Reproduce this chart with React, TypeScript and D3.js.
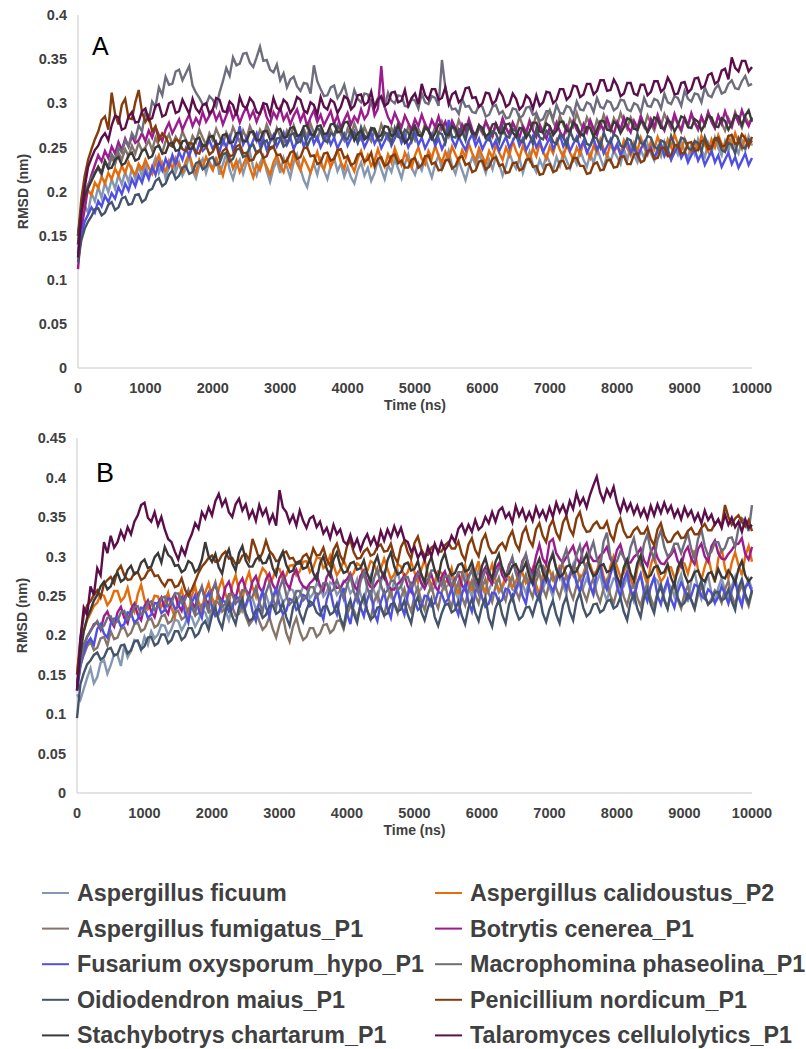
import React from 'react';
import * as d3 from 'd3';

const SERIES_NAMES = [
  'Aspergillus ficuum',
  'Aspergillus calidoustus_P2',
  'Aspergillus fumigatus_P1',
  'Botrytis cenerea_P1',
  'Fusarium oxysporum_hypo_P1',
  'Macrophomina phaseolina_P1',
  'Oidiodendron maius_P1',
  'Penicillium nordicum_P1',
  'Stachybotrys chartarum_P1',
  'Talaromyces cellulolytics_P1',
];

const SERIES_COLORS = [
  '#8497b0', '#e46c0a', '#857468', '#9b1c8c', '#5050e0',
  '#6e6d7e', '#44546a', '#843c0c', '#3b3838', '#5b0f4a',
];

const X_TICKS = [0, 1000, 2000, 3000, 4000, 5000, 6000, 7000, 8000, 9000, 10000];
const Y_TICKS_A = [0, 0.05, 0.1, 0.15, 0.2, 0.25, 0.3, 0.35, 0.4];
const Y_TICKS_B = [0, 0.05, 0.1, 0.15, 0.2, 0.25, 0.3, 0.35, 0.4, 0.45];

// RMSD values (nm), sampled every 50 ns from 0 to 10000 ns.
// ---------- Panel A ----------
const A_FICUUM = [
  .130,.168,.184,.176,.198,.189,.205,.193,.210,.199,
  .214,.203,.219,.208,.222,.211,.226,.214,.229,.217,
  .231,.216,.227,.238,.221,.232,.215,.228,.240,.222,
  .233,.218,.226,.241,.224,.215,.230,.237,.221,.234,
  .226,.239,.219,.231,.243,.225,.214,.229,.236,.220,
  .233,.245,.227,.218,.232,.240,.223,.211,.226,.235,
  .221,.238,.228,.216,.233,.242,.226,.213,.205,.222,
  .231,.219,.236,.224,.214,.229,.238,.223,.232,.217,
  .228,.216,.209,.224,.233,.218,.227,.212,.221,.236,
  .225,.214,.230,.222,.237,.226,.215,.231,.242,.227,
  .219,.232,.224,.238,.227,.216,.231,.241,.225,.234,
  .246,.229,.220,.235,.224,.213,.228,.239,.230,.243,
  .232,.221,.236,.225,.240,.231,.218,.229,.244,.233,
  .226,.238,.221,.234,.245,.230,.222,.236,.227,.241,
  .233,.224,.239,.229,.244,.235,.226,.240,.231,.247,
  .236,.228,.243,.232,.249,.238,.227,.242,.234,.246,
  .239,.231,.248,.236,.252,.241,.233,.247,.238,.254,
  .243,.235,.250,.240,.256,.244,.236,.251,.242,.257,
  .246,.238,.253,.242,.259,.247,.239,.255,.244,.261,
  .249,.241,.257,.246,.262,.251,.243,.258,.247,.263,
  .252,
];
const A_CALIDOUSTUS = [
  .140,.175,.192,.201,.196,.210,.204,.217,.209,.221,
  .214,.226,.218,.229,.221,.233,.224,.219,.231,.225,
  .236,.227,.220,.232,.241,.228,.223,.235,.226,.238,
  .230,.222,.234,.243,.229,.221,.236,.227,.239,.231,
  .224,.237,.229,.218,.233,.240,.226,.235,.222,.230,
  .239,.227,.216,.231,.224,.236,.228,.219,.233,.241,
  .229,.222,.236,.227,.243,.232,.224,.238,.230,.221,
  .234,.245,.231,.225,.239,.228,.236,.247,.233,.226,
  .240,.231,.223,.237,.246,.232,.241,.229,.235,.248,
  .236,.228,.242,.233,.249,.238,.230,.244,.235,.227,
  .241,.250,.237,.231,.246,.238,.252,.240,.233,.245,
  .236,.251,.242,.234,.247,.239,.254,.243,.235,.249,
  .240,.232,.246,.238,.253,.244,.236,.250,.241,.257,
  .246,.238,.252,.243,.235,.249,.240,.255,.245,.237,
  .251,.243,.258,.247,.239,.253,.244,.236,.250,.242,
  .256,.246,.238,.252,.244,.259,.248,.240,.254,.245,
  .251,.243,.258,.249,.241,.255,.246,.261,.250,.242,
  .257,.248,.262,.252,.244,.259,.250,.265,.254,.246,
  .260,.251,.243,.257,.248,.263,.253,.245,.259,.250,
  .264,.254,.246,.261,.251,.266,.255,.248,.262,.252,
  .258,
];
const A_FUMIGATUS = [
  .150,.182,.196,.208,.214,.221,.228,.220,.235,.226,
  .239,.231,.244,.236,.248,.240,.252,.243,.255,.246,
  .250,.258,.247,.261,.252,.244,.257,.265,.253,.262,
  .255,.268,.259,.250,.263,.256,.270,.261,.253,.266,
  .258,.271,.262,.254,.267,.259,.273,.264,.256,.269,
  .260,.274,.265,.257,.270,.262,.276,.266,.258,.272,
  .263,.255,.269,.261,.275,.264,.257,.271,.262,.277,
  .266,.258,.272,.263,.256,.270,.261,.275,.265,.258,
  .271,.263,.277,.266,.259,.273,.264,.257,.270,.262,
  .276,.266,.259,.272,.264,.278,.267,.260,.274,.265,
  .258,.271,.263,.277,.268,.261,.274,.265,.279,.269,
  .262,.275,.267,.281,.271,.263,.277,.268,.260,.273,
  .266,.280,.270,.262,.276,.268,.283,.272,.264,.278,
  .270,.285,.274,.266,.281,.272,.288,.276,.268,.283,
  .292,.279,.271,.286,.276,.268,.282,.274,.289,.278,
  .270,.284,.275,.267,.281,.273,.287,.277,.269,.283,
  .275,.289,.279,.271,.284,.276,.268,.281,.273,.286,
  .277,.269,.283,.275,.288,.279,.271,.285,.276,.268,
  .282,.274,.287,.278,.270,.284,.275,.289,.280,.272,
  .286,.277,.269,.283,.275,.290,.280,.272,.285,.277,
  .283,
];
const A_BOTRYTIS = [
  .112,.158,.180,.205,.219,.230,.241,.234,.246,.238,
  .251,.243,.256,.247,.260,.251,.263,.255,.258,.266,
  .257,.269,.261,.273,.264,.257,.270,.278,.266,.274,
  .282,.270,.279,.287,.274,.283,.276,.290,.279,.286,
  .293,.281,.289,.276,.286,.295,.282,.290,.278,.288,
  .296,.283,.291,.279,.289,.298,.284,.277,.290,.283,
  .295,.281,.288,.276,.286,.293,.280,.289,.274,.284,
  .292,.279,.287,.275,.283,.291,.277,.286,.272,.281,
  .289,.276,.285,.279,.293,.282,.288,.305,.286,.294,
  .342,.296,.284,.277,.289,.280,.273,.286,.278,.270,
  .282,.274,.287,.276,.269,.281,.273,.285,.271,.279,
  .267,.280,.272,.263,.276,.269,.282,.270,.262,.275,
  .268,.279,.271,.264,.277,.268,.282,.272,.265,.278,
  .270,.261,.274,.267,.279,.269,.262,.275,.266,.260,
  .273,.265,.278,.268,.261,.274,.266,.280,.270,.263,
  .276,.267,.281,.271,.264,.277,.269,.283,.272,.265,
  .279,.270,.284,.274,.267,.280,.272,.286,.275,.268,
  .282,.273,.287,.276,.269,.283,.274,.288,.277,.270,
  .284,.275,.289,.278,.271,.285,.276,.290,.279,.272,
  .286,.277,.291,.280,.273,.287,.278,.292,.281,.274,
  .284,
];
const A_FUSARIUM = [
  .130,.152,.166,.174,.182,.176,.189,.183,.195,.188,
  .198,.192,.205,.197,.209,.201,.214,.206,.218,.210,
  .223,.214,.228,.219,.233,.224,.237,.228,.241,.231,
  .245,.236,.249,.240,.252,.242,.255,.246,.250,.258,
  .248,.256,.245,.259,.250,.262,.247,.257,.274,.253,
  .261,.249,.258,.266,.252,.260,.247,.256,.264,.251,
  .259,.267,.253,.261,.248,.257,.265,.251,.260,.268,
  .254,.262,.250,.258,.266,.253,.261,.249,.257,.265,
  .252,.260,.268,.255,.263,.250,.258,.266,.254,.262,
  .249,.257,.265,.252,.260,.268,.255,.263,.250,.258,
  .266,.253,.261,.249,.257,.265,.252,.260,.248,.256,
  .281,.259,.251,.262,.254,.247,.258,.265,.252,.260,
  .248,.256,.263,.250,.258,.246,.254,.262,.249,.257,
  .265,.252,.260,.247,.255,.263,.250,.258,.245,.253,
  .261,.248,.256,.264,.251,.259,.246,.254,.262,.249,
  .257,.244,.252,.260,.247,.255,.243,.251,.259,.246,
  .254,.241,.249,.257,.244,.252,.240,.248,.256,.243,
  .250,.238,.246,.253,.240,.248,.236,.244,.251,.238,
  .245,.233,.241,.248,.235,.243,.230,.238,.246,.233,
  .241,.228,.236,.244,.231,.239,.227,.235,.243,.230,
  .238,
];
const A_MACROPHOMINA = [
  .150,.180,.198,.207,.215,.222,.226,.219,.234,.228,
  .242,.236,.250,.244,.258,.251,.266,.259,.275,.268,
  .290,.281,.302,.296,.318,.309,.330,.321,.322,.336,
  .338,.326,.334,.342,.320,.312,.306,.299,.298,.308,
  .304,.296,.312,.325,.340,.331,.352,.343,.345,.356,
  .357,.346,.341,.352,.364,.348,.349,.338,.335,.344,
  .326,.334,.318,.327,.330,.319,.314,.323,.322,.311,
  .343,.325,.316,.308,.309,.318,.320,.306,.312,.321,
  .306,.298,.315,.305,.301,.311,.310,.298,.297,.306,
  .305,.296,.312,.303,.300,.309,.308,.297,.296,.305,
  .303,.294,.311,.301,.299,.308,.306,.297,.349,.318,
  .302,.293,.294,.288,.305,.296,.297,.290,.289,.298,
  .296,.285,.287,.296,.298,.288,.291,.283,.284,.294,
  .293,.283,.286,.295,.296,.287,.289,.280,.282,.291,
  .291,.283,.298,.289,.288,.297,.295,.286,.302,.293,
  .292,.301,.299,.290,.306,.296,.294,.303,.301,.292,
  .295,.304,.303,.293,.291,.300,.298,.289,.306,.297,
  .296,.305,.303,.294,.311,.301,.299,.308,.306,.297,
  .314,.305,.302,.311,.310,.301,.318,.309,.307,.316,
  .321,.311,.313,.322,.326,.317,.316,.325,.331,.320,
  .322,
];
const A_OIDIODENDRON = [
  .120,.145,.158,.166,.172,.180,.181,.173,.176,.185,
  .188,.179,.182,.192,.194,.185,.186,.196,.197,.188,
  .191,.201,.203,.212,.215,.206,.209,.219,.224,.214,
  .218,.227,.229,.220,.222,.232,.234,.225,.228,.237,
  .239,.230,.232,.242,.244,.234,.237,.247,.249,.239,
  .241,.251,.253,.243,.246,.256,.258,.248,.250,.260,
  .261,.251,.254,.264,.266,.255,.257,.267,.251,.260,
  .262,.272,.268,.258,.256,.266,.264,.274,.271,.261,
  .259,.269,.266,.256,.273,.263,.261,.271,.268,.258,
  .258,.267,.265,.255,.272,.262,.260,.270,.267,.257,
  .274,.264,.262,.272,.269,.259,.257,.267,.265,.255,
  .272,.262,.261,.271,.268,.258,.275,.265,.263,.273,
  .270,.260,.258,.268,.266,.256,.273,.263,.261,.271,
  .268,.258,.256,.266,.264,.254,.271,.261,.259,.269,
  .266,.256,.254,.264,.262,.252,.269,.259,.257,.267,
  .264,.254,.252,.262,.260,.250,.267,.257,.255,.265,
  .262,.252,.250,.260,.258,.248,.265,.255,.253,.263,
  .261,.251,.248,.258,.256,.246,.263,.253,.251,.261,
  .259,.249,.247,.257,.255,.245,.262,.252,.250,.260,
  .257,.247,.245,.255,.253,.243,.260,.250,.249,.259,
  .256,
];
const A_PENICILLIUM = [
  .150,.192,.218,.236,.248,.259,.268,.281,.285,.270,
  .312,.288,.276,.298,.305,.283,.282,.301,.315,.290,
  .279,.286,.268,.274,.258,.266,.262,.253,.251,.259,
  .257,.248,.246,.255,.254,.244,.243,.253,.252,.242,
  .245,.254,.238,.246,.249,.240,.241,.251,.253,.243,
  .244,.235,.236,.245,.247,.238,.240,.250,.251,.241,
  .242,.233,.235,.244,.246,.237,.239,.249,.250,.240,
  .241,.231,.233,.243,.244,.235,.237,.247,.248,.238,
  .240,.230,.232,.242,.243,.234,.236,.244,.228,.237,
  .239,.229,.231,.240,.242,.232,.235,.227,.227,.236,
  .238,.227,.230,.240,.241,.231,.233,.224,.225,.235,
  .236,.226,.229,.238,.240,.230,.232,.222,.224,.234,
  .235,.225,.228,.237,.239,.229,.231,.221,.222,.232,
  .233,.224,.226,.236,.237,.228,.229,.219,.220,.230,
  .231,.222,.224,.234,.235,.226,.227,.238,.238,.229,
  .229,.220,.221,.231,.233,.224,.225,.235,.236,.227,
  .228,.239,.240,.231,.231,.242,.243,.233,.235,.246,
  .247,.237,.238,.249,.250,.240,.241,.252,.253,.243,
  .244,.255,.256,.246,.247,.257,.258,.248,.249,.260,
  .261,.251,.252,.263,.264,.254,.255,.265,.260,.251,
  .262,
];
const A_STACHYBOTRYS = [
  .140,.178,.195,.204,.212,.220,.228,.221,.234,.226,
  .227,.236,.239,.230,.232,.241,.244,.235,.237,.246,
  .248,.238,.240,.250,.252,.243,.244,.254,.255,.246,
  .247,.257,.258,.248,.249,.259,.261,.251,.252,.262,
  .263,.253,.254,.264,.265,.255,.256,.266,.267,.257,
  .257,.267,.268,.258,.258,.268,.269,.259,.260,.270,
  .271,.261,.262,.272,.273,.263,.264,.274,.275,.265,
  .264,.274,.275,.265,.266,.276,.277,.267,.268,.278,
  .279,.269,.258,.266,.269,.259,.262,.272,.271,.261,
  .264,.274,.273,.263,.265,.275,.265,.255,.259,.269,
  .274,.264,.263,.273,.270,.260,.266,.276,.275,.265,
  .264,.274,.271,.261,.266,.276,.276,.266,.265,.275,
  .272,.262,.266,.276,.277,.267,.266,.276,.277,.267,
  .262,.272,.271,.261,.268,.278,.278,.268,.267,.277,
  .274,.264,.269,.279,.279,.269,.268,.278,.275,.265,
  .263,.273,.272,.262,.270,.280,.280,.270,.269,.279,
  .276,.266,.273,.283,.281,.271,.270,.280,.277,.267,
  .274,.284,.282,.272,.271,.281,.278,.268,.275,.285,
  .283,.273,.272,.282,.279,.269,.276,.286,.284,.274,
  .273,.283,.280,.270,.277,.287,.285,.275,.286,.292,
  .279,
];
const A_TALAROMYCES = [
  .125,.175,.205,.228,.238,.247,.252,.261,.266,.258,
  .275,.286,.284,.270,.272,.285,.290,.278,.279,.291,
  .294,.281,.283,.297,.299,.285,.287,.300,.302,.289,
  .291,.304,.296,.288,.305,.294,.289,.298,.300,.288,
  .293,.306,.304,.291,.290,.302,.298,.286,.307,.297,
  .294,.306,.301,.290,.288,.300,.299,.287,.306,.295,
  .292,.304,.300,.289,.295,.307,.304,.292,.289,.301,
  .298,.287,.307,.296,.293,.304,.301,.289,.296,.308,
  .305,.293,.297,.309,.310,.298,.301,.313,.295,.304,
  .308,.297,.300,.312,.313,.301,.303,.315,.297,.306,
  .311,.299,.322,.309,.304,.316,.316,.304,.306,.318,
  .299,.310,.313,.301,.305,.317,.318,.306,.307,.296,
  .300,.312,.311,.299,.303,.315,.308,.296,.299,.311,
  .305,.293,.297,.309,.305,.294,.309,.297,.301,.313,
  .312,.300,.304,.316,.316,.304,.308,.320,.319,.307,
  .310,.322,.322,.310,.314,.326,.326,.314,.315,.327,
  .320,.308,.311,.323,.323,.311,.309,.321,.321,.309,
  .313,.325,.325,.313,.317,.329,.322,.310,.311,.323,
  .324,.312,.316,.328,.329,.317,.320,.332,.334,.322,
  .325,.337,.339,.327,.352,.340,.336,.348,.348,.336,
  .341,
];

// ---------- Panel B ----------
const B_FICUUM = [
  .125,.118,.132,.146,.158,.139,.147,.165,.168,.151,
  .162,.176,.175,.161,.186,.172,.180,.194,.193,.181,
  .198,.188,.205,.196,.201,.213,.212,.200,.208,.220,
  .218,.206,.214,.226,.223,.211,.219,.231,.229,.216,
  .235,.224,.226,.238,.231,.219,.238,.249,.242,.230,
  .236,.248,.247,.233,.240,.253,.251,.238,.244,.256,
  .254,.241,.247,.259,.257,.244,.250,.262,.260,.247,
  .253,.265,.262,.249,.255,.267,.264,.251,.257,.269,
  .266,.253,.259,.271,.252,.241,.263,.275,.256,.245,
  .267,.279,.260,.249,.270,.282,.262,.250,.255,.267,
  .266,.254,.259,.271,.269,.257,.261,.273,.272,.259,
  .264,.276,.257,.245,.268,.280,.261,.249,.271,.283,
  .263,.251,.256,.268,.266,.254,.259,.271,.270,.258,
  .255,.267,.265,.253,.270,.282,.262,.250,.258,.270,
  .261,.249,.272,.284,.264,.252,.278,.290,.268,.256,
  .260,.272,.263,.251,.267,.279,.256,.244,.260,.272,
  .270,.258,.262,.274,.255,.243,.266,.278,.259,.247,
  .261,.273,.269,.257,.254,.266,.261,.249,.265,.277,
  .254,.242,.269,.281,.258,.246,.264,.276,.253,.241,
  .260,.272,.257,.245,.262,.274,.252,.240,.259,.271,
  .258,
];
const B_CALIDOUSTUS = [
  .150,.188,.205,.219,.228,.237,.241,.252,.250,.238,
  .244,.256,.256,.243,.248,.260,.241,.230,.252,.264,
  .245,.233,.238,.250,.249,.236,.242,.254,.235,.223,
  .246,.258,.239,.227,.250,.262,.243,.231,.254,.266,
  .248,.236,.259,.271,.252,.240,.264,.276,.257,.245,
  .268,.280,.261,.249,.273,.285,.280,.267,.272,.284,
  .284,.271,.276,.288,.289,.276,.281,.293,.294,.280,
  .286,.298,.298,.285,.289,.301,.289,.276,.283,.295,
  .285,.273,.279,.291,.288,.275,.281,.294,.291,.278,
  .284,.297,.284,.271,.277,.290,.287,.274,.280,.293,
  .280,.267,.283,.296,.276,.263,.268,.281,.279,.266,
  .272,.285,.265,.252,.276,.289,.269,.256,.281,.294,
  .266,.253,.277,.290,.270,.257,.262,.275,.274,.261,
  .267,.280,.279,.266,.271,.284,.264,.251,.276,.289,
  .283,.270,.275,.288,.288,.275,.273,.286,.285,.272,
  .278,.291,.290,.277,.282,.295,.275,.262,.287,.300,
  .287,.274,.279,.292,.272,.259,.284,.297,.277,.264,
  .289,.302,.281,.268,.274,.287,.286,.273,.279,.292,
  .291,.278,.295,.308,.283,.270,.287,.300,.280,.267,
  .297,.310,.285,.272,.292,.305,.289,.276,.300,.313,
  .293,
];
const B_FUMIGATUS = [
  .140,.162,.175,.186,.192,.181,.184,.196,.198,.187,
  .205,.195,.197,.208,.210,.199,.203,.214,.216,.205,
  .208,.219,.221,.210,.213,.224,.226,.215,.218,.229,
  .231,.220,.223,.234,.236,.225,.228,.239,.240,.229,
  .232,.243,.241,.230,.234,.245,.236,.225,.227,.238,
  .224,.213,.219,.230,.218,.207,.212,.223,.208,.197,
  .214,.225,.203,.192,.211,.222,.205,.194,.198,.209,
  .209,.198,.202,.213,.214,.203,.207,.218,.219,.208,
  .226,.237,.232,.221,.238,.249,.231,.220,.242,.253,
  .236,.225,.245,.256,.239,.228,.248,.259,.241,.230,
  .250,.261,.243,.232,.252,.263,.245,.234,.254,.265,
  .247,.236,.256,.267,.249,.238,.258,.269,.251,.240,
  .260,.271,.253,.242,.262,.273,.255,.244,.264,.275,
  .257,.246,.266,.277,.259,.248,.268,.279,.260,.249,
  .267,.278,.259,.248,.265,.276,.257,.246,.263,.274,
  .255,.244,.261,.272,.253,.242,.259,.270,.251,.240,
  .257,.268,.249,.238,.256,.267,.248,.237,.255,.266,
  .247,.236,.254,.265,.246,.235,.253,.264,.245,.234,
  .252,.263,.244,.233,.251,.262,.250,.239,.246,.257,
  .252,.241,.258,.269,.250,.239,.253,.264,.248,.237,
  .255,
];
const B_BOTRYTIS = [
  .130,.165,.185,.198,.205,.214,.216,.207,.224,.230,
  .218,.211,.229,.236,.222,.215,.233,.240,.226,.219,
  .237,.244,.230,.223,.241,.248,.234,.227,.245,.252,
  .238,.231,.249,.256,.242,.235,.253,.260,.246,.239,
  .257,.264,.250,.243,.261,.268,.254,.247,.265,.272,
  .258,.251,.268,.275,.261,.254,.271,.278,.264,.257,
  .273,.280,.266,.259,.276,.283,.269,.262,.259,.266,
  .270,.277,.263,.256,.274,.281,.267,.260,.260,.267,
  .271,.278,.264,.257,.275,.282,.268,.261,.261,.268,
  .272,.279,.265,.258,.258,.265,.269,.276,.262,.255,
  .273,.280,.266,.259,.270,.277,.263,.256,.274,.281,
  .267,.260,.271,.278,.264,.257,.275,.282,.268,.261,
  .279,.286,.272,.265,.284,.291,.276,.269,.289,.296,
  .281,.274,.294,.301,.286,.279,.300,.315,.297,.290,
  .318,.322,.304,.297,.292,.299,.306,.313,.298,.291,
  .310,.317,.301,.294,.294,.301,.305,.312,.297,.290,
  .308,.315,.299,.292,.292,.299,.303,.310,.295,.288,
  .306,.313,.298,.291,.290,.297,.302,.309,.294,.287,
  .305,.312,.297,.290,.309,.316,.300,.293,.313,.320,
  .304,.297,.296,.303,.308,.315,.316,.323,.303,.296,
  .312,
];
const B_FUSARIUM = [
  .130,.160,.178,.190,.196,.188,.208,.214,.202,.197,
  .215,.221,.222,.211,.214,.229,.228,.216,.220,.235,
  .234,.222,.226,.241,.240,.228,.232,.247,.245,.233,
  .236,.250,.228,.216,.241,.251,.233,.222,.246,.254,
  .237,.225,.229,.244,.242,.230,.234,.249,.247,.235,
  .238,.252,.230,.218,.243,.256,.235,.224,.248,.259,
  .239,.227,.231,.246,.244,.232,.236,.251,.249,.237,
  .240,.254,.232,.220,.245,.258,.237,.226,.249,.260,
  .228,.214,.240,.253,.236,.224,.245,.257,.229,.218,
  .242,.255,.234,.222,.247,.259,.238,.226,.251,.263,
  .244,.232,.236,.250,.249,.237,.241,.255,.253,.241,
  .246,.260,.238,.226,.251,.264,.242,.230,.254,.267,
  .248,.236,.240,.254,.253,.241,.245,.259,.257,.245,
  .258,.270,.250,.240,.265,.275,.252,.244,.266,.278,
  .265,.256,.268,.283,.272,.259,.276,.286,.266,.255,
  .272,.285,.263,.252,.280,.289,.269,.258,.276,.290,
  .262,.249,.270,.281,.258,.247,.266,.277,.254,.243,
  .262,.274,.250,.239,.258,.270,.246,.235,.255,.267,
  .258,.246,.250,.264,.262,.250,.246,.258,.254,.241,
  .248,.262,.252,.240,.257,.269,.249,.237,.261,.266,
  .255,
];
const B_MACROPHOMINA = [
  .140,.165,.188,.198,.206,.212,.218,.209,.212,.222,
  .224,.214,.218,.229,.231,.220,.225,.236,.237,.226,
  .230,.241,.243,.232,.236,.247,.249,.237,.241,.253,
  .253,.241,.245,.257,.238,.227,.250,.262,.243,.232,
  .255,.267,.247,.236,.240,.252,.252,.240,.245,.257,
  .257,.245,.249,.261,.242,.230,.254,.266,.247,.235,
  .259,.271,.251,.239,.244,.256,.256,.244,.249,.261,
  .261,.249,.254,.266,.266,.254,.258,.270,.258,.246,
  .263,.275,.256,.244,.268,.280,.260,.248,.272,.284,
  .264,.252,.257,.269,.269,.257,.262,.274,.274,.262,
  .266,.278,.278,.266,.270,.282,.282,.270,.263,.275,
  .275,.263,.268,.280,.280,.268,.272,.284,.265,.253,
  .270,.282,.282,.270,.274,.286,.286,.274,.287,.299,
  .279,.267,.291,.303,.283,.271,.276,.288,.288,.276,
  .293,.305,.285,.273,.297,.309,.289,.277,.302,.314,
  .294,.282,.306,.318,.298,.286,.318,.330,.301,.289,
  .294,.306,.299,.287,.311,.323,.303,.291,.316,.328,
  .308,.296,.321,.333,.312,.300,.304,.316,.316,.304,
  .317,.329,.309,.297,.322,.334,.313,.301,.306,.318,
  .318,.306,.311,.323,.324,.312,.336,.348,.344,.332,
  .365,
];
const B_OIDIODENDRON = [
  .095,.138,.152,.163,.168,.175,.178,.169,.172,.182,
  .184,.174,.176,.187,.188,.177,.181,.192,.193,.182,
  .186,.197,.198,.187,.190,.201,.201,.190,.194,.205,
  .205,.194,.198,.209,.209,.198,.202,.213,.218,.207,
  .225,.235,.219,.209,.231,.241,.224,.214,.236,.246,
  .228,.218,.221,.232,.233,.222,.226,.237,.238,.227,
  .230,.241,.223,.212,.235,.246,.228,.217,.232,.243,
  .240,.229,.225,.236,.237,.226,.229,.240,.222,.211,
  .234,.245,.227,.216,.239,.250,.231,.220,.224,.235,
  .236,.225,.228,.239,.241,.230,.233,.244,.226,.215,
  .238,.249,.230,.219,.235,.246,.223,.212,.227,.238,
  .240,.229,.232,.243,.225,.214,.235,.246,.229,.218,
  .237,.248,.222,.211,.234,.245,.226,.215,.239,.250,
  .231,.220,.224,.235,.236,.225,.241,.252,.228,.217,
  .233,.244,.226,.215,.238,.249,.230,.219,.243,.254,
  .235,.224,.228,.239,.240,.229,.232,.243,.245,.234,
  .237,.248,.230,.219,.242,.253,.234,.223,.247,.258,
  .239,.228,.252,.263,.244,.233,.256,.267,.248,.237,
  .241,.252,.245,.234,.258,.269,.250,.239,.243,.254,
  .255,.244,.247,.258,.243,.232,.260,.271,.252,.241,
  .257,
];
const B_PENICILLIUM = [
  .150,.195,.225,.238,.243,.251,.257,.248,.265,.270,
  .274,.266,.282,.288,.276,.270,.271,.279,.280,.270,
  .273,.281,.284,.275,.276,.268,.262,.270,.270,.261,
  .263,.272,.258,.250,.258,.268,.279,.287,.292,.298,
  .301,.293,.294,.302,.306,.297,.298,.290,.292,.301,
  .303,.295,.322,.310,.296,.305,.320,.307,.302,.294,
  .295,.304,.306,.297,.298,.290,.291,.300,.303,.294,
  .310,.301,.302,.311,.296,.288,.308,.316,.301,.293,
  .313,.321,.305,.297,.298,.306,.310,.301,.303,.312,
  .315,.306,.307,.316,.300,.292,.312,.320,.305,.297,
  .317,.325,.309,.301,.302,.311,.314,.306,.306,.314,
  .318,.310,.310,.319,.303,.295,.315,.323,.308,.300,
  .320,.328,.312,.304,.305,.313,.317,.309,.324,.332,
  .316,.308,.329,.337,.321,.313,.334,.342,.326,.318,
  .338,.346,.330,.322,.343,.351,.335,.327,.348,.356,
  .339,.331,.332,.340,.344,.336,.336,.344,.328,.320,
  .340,.348,.332,.324,.325,.333,.337,.329,.329,.337,
  .322,.314,.334,.342,.326,.318,.319,.327,.331,.323,
  .324,.332,.336,.328,.328,.336,.341,.333,.333,.341,
  .346,.338,.365,.350,.340,.348,.352,.344,.338,.346,
  .332,
];
const B_STACHYBOTRYS = [
  .130,.175,.205,.222,.232,.244,.251,.262,.268,.258,
  .262,.274,.279,.268,.271,.283,.288,.277,.280,.292,
  .296,.285,.287,.299,.304,.292,.312,.302,.298,.288,
  .289,.280,.283,.294,.291,.280,.284,.296,.318,.300,
  .293,.303,.286,.278,.299,.309,.291,.282,.304,.313,
  .295,.287,.287,.296,.300,.291,.292,.302,.285,.276,
  .297,.306,.289,.280,.282,.292,.294,.284,.286,.296,
  .279,.270,.291,.300,.284,.275,.296,.305,.288,.279,
  .281,.291,.293,.283,.285,.295,.278,.268,.290,.300,
  .283,.273,.295,.305,.287,.277,.280,.290,.292,.282,
  .284,.294,.277,.267,.289,.299,.282,.272,.294,.304,
  .286,.276,.279,.289,.291,.281,.283,.293,.276,.266,
  .288,.298,.281,.271,.293,.303,.285,.275,.278,.288,
  .290,.280,.282,.292,.275,.265,.287,.297,.280,.270,
  .292,.302,.284,.274,.277,.287,.289,.279,.281,.291,
  .293,.303,.285,.275,.278,.288,.290,.280,.282,.292,
  .274,.264,.286,.296,.279,.269,.291,.301,.283,.273,
  .276,.286,.288,.278,.280,.290,.273,.263,.285,.295,
  .277,.267,.270,.280,.282,.272,.268,.278,.280,.270,
  .284,.274,.272,.282,.276,.266,.284,.294,.276,.268,
  .274,
];
const B_TALAROMYCES = [
  .130,.195,.235,.226,.262,.251,.285,.276,.318,.304,
  .326,.311,.318,.332,.322,.337,.328,.344,.352,.365,
  .368,.349,.344,.356,.339,.350,.334,.322,.318,.306,
  .296,.311,.302,.318,.328,.342,.335,.356,.348,.362,
  .352,.370,.379,.364,.372,.356,.350,.366,.373,.358,
  .366,.349,.358,.345,.365,.352,.360,.343,.353,.339,
  .384,.362,.356,.343,.352,.339,.358,.345,.336,.348,
  .351,.337,.344,.329,.336,.323,.340,.328,.334,.319,
  .315,.327,.312,.322,.308,.320,.328,.315,.324,.312,
  .332,.320,.334,.324,.338,.326,.336,.321,.318,.306,
  .312,.298,.306,.295,.312,.300,.316,.304,.318,.308,
  .314,.326,.318,.335,.341,.329,.340,.331,.346,.334,
  .338,.350,.342,.356,.344,.358,.362,.349,.355,.343,
  .364,.351,.360,.346,.356,.345,.362,.350,.358,.347,
  .362,.350,.368,.356,.365,.353,.370,.360,.380,.366,
  .374,.362,.378,.390,.401,.381,.370,.385,.376,.388,
  .368,.356,.371,.358,.367,.354,.364,.351,.360,.348,
  .364,.352,.366,.355,.368,.356,.364,.350,.359,.347,
  .362,.351,.358,.345,.354,.342,.358,.346,.353,.340,
  .347,.336,.353,.340,.349,.337,.344,.331,.347,.336,
  .340,
];

const PANEL_A = [
  A_FICUUM, A_CALIDOUSTUS, A_FUMIGATUS, A_BOTRYTIS, A_FUSARIUM,
  A_MACROPHOMINA, A_OIDIODENDRON, A_PENICILLIUM, A_STACHYBOTRYS, A_TALAROMYCES,
];
const PANEL_B = [
  B_FICUUM, B_CALIDOUSTUS, B_FUMIGATUS, B_BOTRYTIS, B_FUSARIUM,
  B_MACROPHOMINA, B_OIDIODENDRON, B_PENICILLIUM, B_STACHYBOTRYS, B_TALAROMYCES,
];

const FONT = '"Liberation Sans", Arial, Helvetica, sans-serif';
const TEXT_COLOR = '#404040';
const AXIS_COLOR = '#c8c8c8';
const T_MAX = 10000;

type PanelProps = {
  series: number[][];
  yMax: number;
  yTicks: number[];
  left: number;
  right: number;
  top: number;
  bottom: number;
  letter: string;
  letterX: number;
  letterY: number;
  letterSize: number;
};

function fmt(v: number): string {
  return String(+v.toFixed(2));
}

function Panel(p: PanelProps) {
  const x = d3.scaleLinear().domain([0, T_MAX]).range([p.left, p.right]);
  const y = d3.scaleLinear().domain([0, p.yMax]).range([p.bottom, p.top]);
  const line = d3
    .line<number>()
    .x((_d, i, arr) => x((i * T_MAX) / ((arr as number[]).length - 1)))
    .y((d) => y(d));
  const midY = (p.top + p.bottom) / 2;
  const midX = (p.left + p.right) / 2;
  return (
    <g>
      <line x1={p.left} x2={p.left} y1={p.top} y2={p.bottom} stroke={AXIS_COLOR} strokeWidth={1} />
      <line x1={p.left} x2={p.right} y1={p.bottom} y2={p.bottom} stroke={AXIS_COLOR} strokeWidth={1} />
      {p.yTicks.map((t) => (
        <text
          key={'y' + t}
          x={p.left - 11}
          y={y(t)}
          dy="0.36em"
          textAnchor="end"
          fontFamily={FONT}
          fontWeight="bold"
          fontSize={14.5}
          fill={TEXT_COLOR}
        >
          {fmt(t)}
        </text>
      ))}
      {X_TICKS.map((t) => (
        <text
          key={'x' + t}
          x={x(t)}
          y={p.bottom + 25}
          textAnchor="middle"
          fontFamily={FONT}
          fontWeight="bold"
          fontSize={14.5}
          fill={TEXT_COLOR}
        >
          {t}
        </text>
      ))}
      <text
        x={midX}
        y={p.bottom + 42}
        textAnchor="middle"
        fontFamily={FONT}
        fontWeight="bold"
        fontSize={14}
        fill={TEXT_COLOR}
      >
        Time (ns)
      </text>
      <text
        transform={`translate(${p.left - 55},${midY}) rotate(-90)`}
        textAnchor="middle"
        dy="0.35em"
        fontFamily={FONT}
        fontWeight="bold"
        fontSize={14}
        fill={TEXT_COLOR}
      >
        RMSD (nm)
      </text>
      {p.series.map((vals, i) => (
        <path
          key={'s' + i}
          d={line(vals) || ''}
          fill="none"
          stroke={SERIES_COLORS[i]}
          strokeWidth={2.4}
          strokeLinejoin="miter"
        />
      ))}
      <text x={p.letterX} y={p.letterY} fontFamily={FONT} fontSize={p.letterSize} fill="#000">
        {p.letter}
      </text>
    </g>
  );
}

const LEGEND_COLS = [
  { markX: 42, textX: 77 },
  { markX: 435, textX: 470 },
];
const LEGEND_TOP = 901;
const LEGEND_STEP = 35.6;

function Legend() {
  return (
    <g>
      {SERIES_NAMES.map((name, i) => {
        const col = LEGEND_COLS[i % 2];
        const row = Math.floor(i / 2);
        const base = LEGEND_TOP + row * LEGEND_STEP;
        return (
          <g key={name}>
            <line
              x1={col.markX}
              x2={col.markX + 27}
              y1={base - 8}
              y2={base - 8}
              stroke={SERIES_COLORS[i]}
              strokeWidth={2}
            />
            <text
              x={col.textX}
              y={base}
              fontFamily={FONT}
              fontWeight="bold"
              fontSize={23.3}
              fill={TEXT_COLOR}
            >
              {name}
            </text>
          </g>
        );
      })}
    </g>
  );
}

export default function App() {
  return (
    <svg
      width={806}
      height={1049}
      viewBox="0 0 806 1049"
      style={{ position: 'absolute', left: 0, top: 0, background: '#fff' }}
    >
      <rect x={0} y={0} width={806} height={1049} fill="#fff" />
      <Panel
        series={PANEL_A}
        yMax={0.4}
        yTicks={Y_TICKS_A}
        left={78}
        right={752}
        top={15}
        bottom={368}
        letter="A"
        letterX={92}
        letterY={55}
        letterSize={25}
      />
      <Panel
        series={PANEL_B}
        yMax={0.45}
        yTicks={Y_TICKS_B}
        left={77}
        right={752}
        top={438}
        bottom={793}
        letter="B"
        letterX={96}
        letterY={482}
        letterSize={27}
      />
      <Legend />
    </svg>
  );
}
